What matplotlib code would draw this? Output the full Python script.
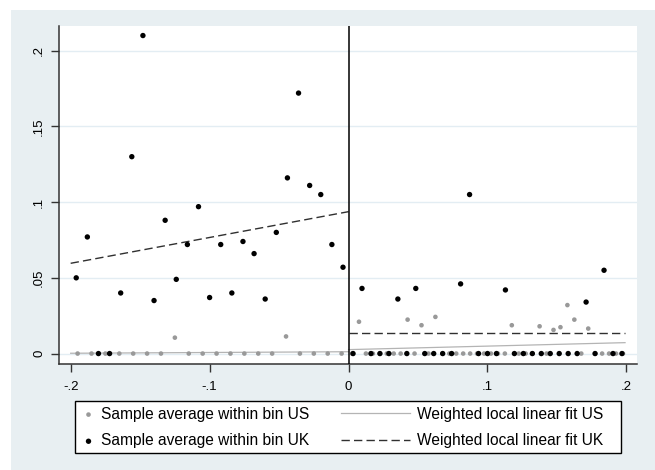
import numpy as np
import matplotlib
matplotlib.use("Agg")
import matplotlib.pyplot as plt
from matplotlib.legend_handler import HandlerLine2D
from matplotlib.patches import Rectangle

plt.rcParams['font.family'] = ['Liberation Sans', 'DejaVu Sans']

# bins: UK left 25 bins, UK right 31 bins, US left 20 bins, US right 40 bins on [-.2, .2]
uk_left_nbins = 25
uk_right_nbins = 31
us_left_nbins = 20
us_right_nbins = 40

uk_left = [0.050, 0.077, 0.0, 0.0, 0.040, 0.130, 0.210, 0.035, 0.088, 0.049,
           0.072, 0.097, 0.037, 0.072, 0.040, 0.074, 0.066, 0.036, 0.080, 0.116,
           0.172, 0.111, 0.105, 0.072, 0.057]
uk_right = [0.0, 0.043, 0.0, 0.0, 0.0, 0.036, 0.0, 0.043, 0.0, 0.0,
            0.0, 0.0, 0.046, 0.105, 0.0, 0.0, 0.0, 0.042, 0.0, 0.0,
            0.0, 0.0, 0.0, 0.0, 0.0, 0.0, 0.034, 0.0, 0.055, 0.0, 0.0]
us_left = [0.0, 0.0, 0.0, 0.0, 0.0, 0.0, 0.0, 0.0105, 0.0, 0.0,
           0.0, 0.0, 0.0, 0.0, 0.0, 0.0113, 0.0, 0.0, 0.0, 0.0]
us_right = [0.0, 0.021, 0.0, 0.0, 0.0, 0.0, 0.0, 0.0, 0.0224, 0.0,
            0.0187, 0.0, 0.0242, 0.0, 0.0, 0.0, 0.0, 0.0, 0.0, 0.0,
            0.0, 0.0, 0.0, 0.0187, 0.0, 0.0, 0.0, 0.018, 0.0, 0.0156,
            0.0174, 0.032, 0.0224, 0.0, 0.0165, 0.0, 0.0, 0.0, 0.0, 0.0]

# fitted lines (end points)
uk_fit_left_x = [-0.2, 0.0]
uk_fit_left_y = [0.0596, 0.0937]
uk_fit_right_x = [0.0, 0.199]
uk_fit_right_y = [0.0134, 0.0134]
us_fit_left_x = [-0.2, 0.0]
us_fit_left_y = [0.0002, 0.0012]
us_fit_right_x = [0.0, 0.199]
us_fit_right_y = [0.0026, 0.0072]

xticks = [-0.2, -0.1, 0.0, 0.1, 0.2]
xticklabels = ['-.2', '-.1', '0', '.1', '.2']
yticks = [0.0, 0.05, 0.1, 0.15, 0.2]
yticklabels = ['0', '.05', '.1', '.15', '.2']


def centers(lo, hi, n):
    w = (hi - lo) / n
    return lo + w * (np.arange(n) + 0.5)


bg = '#e8eff2'
grid_c = '#e3edf3'
us_c = '#999999'

fig = plt.figure(figsize=(6.55, 4.70), dpi=100, facecolor='white')
fig.patches.append(Rectangle((11 / 655, 0), 1, 460 / 470, transform=fig.transFigure,
                             facecolor=bg, edgecolor='none', zorder=-10))
ax = fig.add_axes([59 / 655, 106 / 470, 578 / 655, 338 / 470])
ax.set_facecolor('white')

us_x = np.concatenate([centers(-0.2, 0, us_left_nbins), centers(0, 0.2, us_right_nbins)])
us_y = np.array(us_left + us_right)
uk_x = np.concatenate([centers(-0.2, 0, uk_left_nbins), centers(0, 0.2, uk_right_nbins)])
uk_y = np.array(uk_left + uk_right)

for yv in yticks:
    ax.axhline(yv, color=grid_c, lw=1.0, zorder=0)

ax.plot(us_fit_left_x, us_fit_left_y, color='#b4b4b4', lw=0.9, zorder=2)
line_us, = ax.plot(us_fit_right_x, us_fit_right_y, color='#b4b4b4', lw=0.9, zorder=2)
ax.plot(uk_fit_left_x, uk_fit_left_y, color='#303030', lw=1.0, dashes=(6, 3), zorder=2)
line_uk, = ax.plot(uk_fit_right_x, uk_fit_right_y, color='#303030', lw=1.0,
                   dashes=(6, 3), zorder=2)

sc_us = ax.scatter(us_x, us_y, s=11, color=us_c, edgecolors='none', zorder=3)
sc_uk = ax.scatter(uk_x, uk_y, s=15, color='black', edgecolors='none', zorder=4)

ax.axvline(0, color='black', lw=1.1, zorder=5)

ax.set_xlim(-0.2084, 0.2076)
ax.set_ylim(-0.0069, 0.2163)
ax.set_xticks(xticks)
ax.set_xticklabels(xticklabels)
ax.set_yticks(yticks)
ax.set_yticklabels(yticklabels, rotation=90, va='center')
ax.tick_params(axis='both', direction='out', length=6, width=1, color='#333333',
               labelsize=9.5, labelcolor='black')
ax.tick_params(axis='x', pad=6)
ax.tick_params(axis='y', pad=4)
for side in ['top', 'right']:
    ax.spines[side].set_visible(False)
for side in ['left', 'bottom']:
    ax.spines[side].set_color('#333333')
    ax.spines[side].set_linewidth(1.1)


class LongLine(HandlerLine2D):
    # line sample extends to the left of its handle box
    def get_xdata(self, legend, xdescent, ydescent, width, height, fontsize):
        xd = [-xdescent - 3.7 * fontsize, -xdescent + width]
        return xd, xd


handles = [sc_us, sc_uk, line_us, line_uk]
labels = ['Sample average within bin US', 'Sample average within bin UK',
          'Weighted local linear fit US', 'Weighted local linear fit UK']
leg = fig.legend(handles, labels, ncol=2, loc='lower left',
                 bbox_to_anchor=(78 / 655, 17 / 470, 530 / 655, 52 / 470),
                 mode='expand', fontsize=11.2, frameon=False, borderpad=0.3,
                 labelspacing=0.75, handlelength=0.75, handletextpad=0.45,
                 borderaxespad=0, scatterpoints=1, markerscale=1.0,
                 handler_map={line_us: LongLine(), line_uk: LongLine()})
# legend box
fig.patches.append(Rectangle((75 / 655, 17 / 470), 546 / 655, 52 / 470,
                             transform=fig.transFigure, facecolor='white',
                             edgecolor='black', lw=1.0, zorder=-5))

fig.savefig('out.png', dpi=100, facecolor=fig.get_facecolor())
